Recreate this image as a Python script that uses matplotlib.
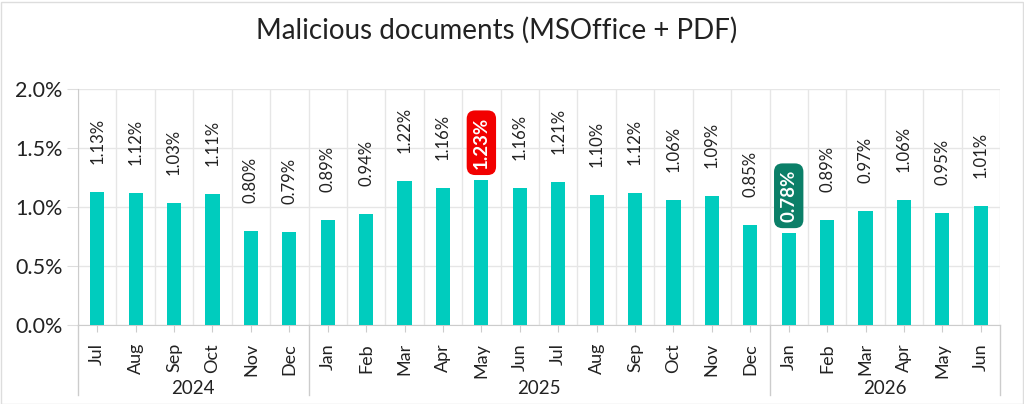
import matplotlib
matplotlib.use("Agg")
import matplotlib.pyplot as plt
import matplotlib.transforms as mtransforms
from matplotlib.patches import Rectangle
from matplotlib.lines import Line2D

months = ["Jul", "Aug", "Sep", "Oct", "Nov", "Dec",
          "Jan", "Feb", "Mar", "Apr", "May", "Jun", "Jul", "Aug", "Sep", "Oct", "Nov", "Dec",
          "Jan", "Feb", "Mar", "Apr", "May", "Jun"]
values = [1.13, 1.12, 1.03, 1.11, 0.80, 0.79,
          0.89, 0.94, 1.22, 1.16, 1.23, 1.16, 1.21, 1.10, 1.12, 1.06, 1.09, 0.85,
          0.78, 0.89, 0.97, 1.06, 0.95, 1.01]
years = ["2024", "2025", "2026"]
year_counts = [6, 12, 6]
title = "Malicious documents (MSOffice + PDF)"

plt.rcParams['font.family'] = ['Lato', 'DejaVu Sans']
TXT = '#222222'
BAR = '#00CCBE'

fig = plt.figure(figsize=(10.24, 4.04), dpi=100)
ax = fig.add_axes([78/1024, 79/404, 922/1024, 236/404])

n = len(values)
xs = list(range(n))
ax.bar(xs, values, width=0.37, color=BAR, zorder=3)

ax.set_xlim(-0.5, n - 0.5)
ax.set_ylim(0, 2.0)
ax.set_yticks([0, 0.5, 1.0, 1.5, 2.0])
ax.set_yticklabels([f"{t:.1f}%" for t in [0, 0.5, 1.0, 1.5, 2.0]], fontsize=15.5, color=TXT)
ax.set_xticks(xs)
ax.set_xticklabels(months, rotation=90, fontsize=13, color=TXT, va='top', ha='center')
ax.set_xticks([i - 0.5 for i in range(n + 1)], minor=True)
ax.tick_params(axis='x', which='major', length=5, color='#cccccc', pad=8)
ax.tick_params(axis='x', which='minor', length=0)
ax.tick_params(axis='y', length=8, color='#dddddd', pad=3)
ax.grid(axis='y', which='major', color='#e6e6e6', lw=1, zorder=0)
ax.grid(axis='x', which='minor', color='#e6e6e6', lw=1, zorder=0)
for s in ['top', 'right']:
    ax.spines[s].set_visible(False)
ax.spines['left'].set_color('#cccccc')
ax.spines['bottom'].set_color('#cccccc')

imax = values.index(max(values))
imin = values.index(min(values))
for i, v in enumerate(values):
    lab = f"{v:.2f}%"
    if i == imax or i == imin:
        fc = '#F20000' if i == imax else '#0B7F68'
        ax.annotate(lab, xy=(i, v), xytext=(0, 11), textcoords='offset pixels',
                    rotation=90, ha='center', va='bottom', fontsize=13.5,
                    fontweight='bold', color='white', zorder=5,
                    bbox=dict(boxstyle='round,pad=0.33,rounding_size=0.45', fc=fc, ec='none'))
    else:
        ax.annotate(lab, xy=(i, v), xytext=(0, 28), textcoords='offset pixels',
                    rotation=90, ha='center', va='bottom', fontsize=12,
                    color=TXT, zorder=5)

# year groups
trans = mtransforms.blended_transform_factory(ax.transData, ax.transAxes)
ax_h = 236
bounds = [-0.5]
for c in year_counts:
    bounds.append(bounds[-1] + c)
for b in bounds:
    ax.add_line(Line2D([b, b], [0, -70/ax_h], transform=trans, color='#cccccc',
                       lw=1, clip_on=False))
for y, a, b in zip(years, bounds[:-1], bounds[1:]):
    ax.text((a + b) / 2, -63/ax_h, y, transform=trans, ha='center', va='center',
            fontsize=13.5, color=TXT)

fig.text(0.485, 1 - 30/404, title, ha='center', va='center', fontsize=20, color=TXT)
fig.patches.append(Rectangle((0.5/1024, 0.5/404), 1 - 2/1024, 1 - 2/404,
                             transform=fig.transFigure, fill=False, ec='#dddddd', lw=1))

fig.savefig("out.png", dpi=100)
